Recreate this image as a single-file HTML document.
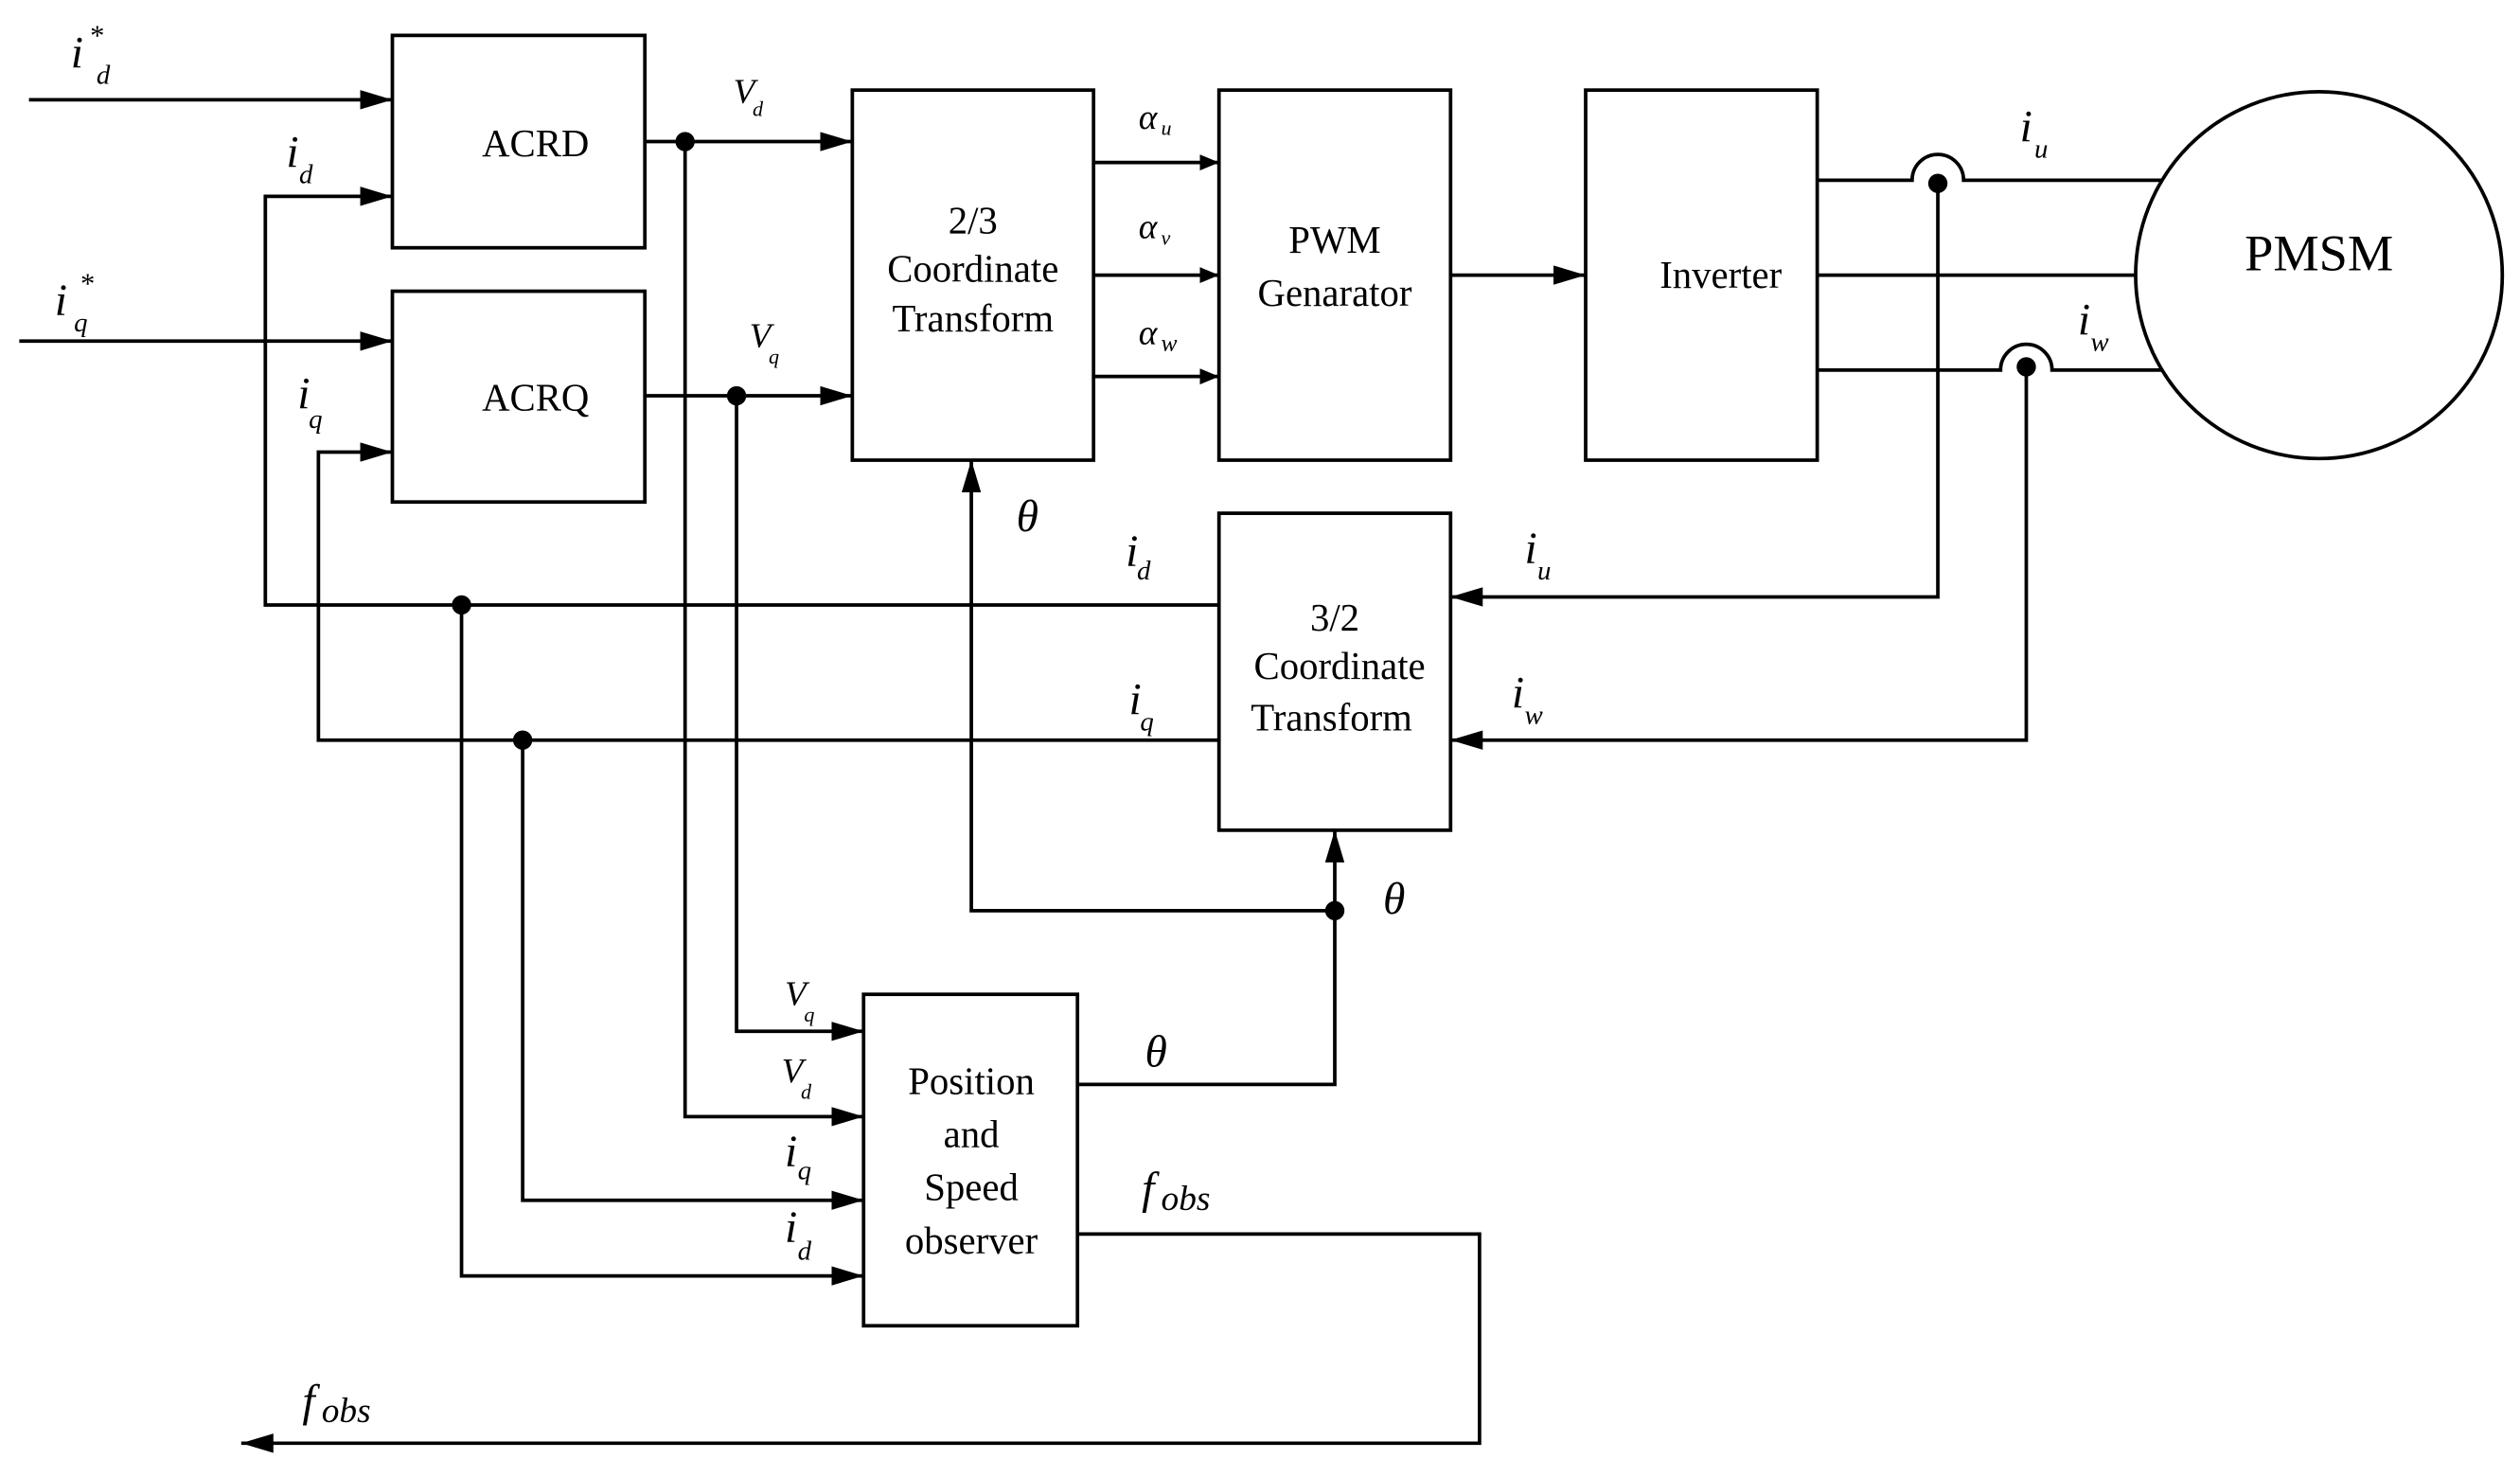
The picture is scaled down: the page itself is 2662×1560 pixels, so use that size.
<!DOCTYPE html>
<html><head><meta charset="utf-8"><style>
html,body{margin:0;padding:0;background:#fff;}
svg{display:block;}
text{font-family:"Liberation Serif",serif;fill:#000;}
.it{font-style:italic;}
</style></head><body>
<svg width="2662" height="1560" viewBox="0 0 1567 918" preserveAspectRatio="none" xmlns="http://www.w3.org/2000/svg">
<defs>
<marker id="a" markerWidth="12" markerHeight="10" refX="12" refY="5" orient="auto" markerUnits="userSpaceOnUse">
<path d="M0,0 L12,5 L0,10 Z" fill="#000"/></marker>
<marker id="b" markerWidth="20" markerHeight="12" refX="20" refY="6" orient="auto" markerUnits="userSpaceOnUse">
<path d="M0,0 L20,6 L0,12 Z" fill="#000"/></marker>
</defs>
<g stroke="#000" stroke-width="2.2" fill="none">
<rect x="244" y="22" width="157" height="132"/>
<rect x="244" y="181" width="157" height="131"/>
<rect x="530" y="56" width="150" height="230"/>
<rect x="758" y="56" width="144" height="230"/>
<rect x="986" y="56" width="144" height="230"/>
<circle cx="1442" cy="171" r="114"/>
<rect x="758" y="319" width="144" height="197"/>
<rect x="537" y="618" width="133" height="206"/>
<path d="M18,62 H244" marker-end="url(#b)"/>
<path d="M12,212 H244" marker-end="url(#b)"/>
<path d="M758,376 H165 V122 H244" marker-end="url(#b)"/>
<path d="M758,460 H198 V281 H244" marker-end="url(#b)"/>
<path d="M401,88 H530" marker-end="url(#b)"/>
<path d="M401,246 H530" marker-end="url(#b)"/>
<path d="M426,88 V694 H537" marker-end="url(#b)"/>
<path d="M458,246 V641 H537" marker-end="url(#b)"/>
<path d="M287,376 V793 H537" marker-end="url(#b)"/>
<path d="M325,460 V746 H537" marker-end="url(#b)"/>
<path d="M680,101 H758" marker-end="url(#a)"/>
<path d="M680,171 H758" marker-end="url(#a)"/>
<path d="M680,234 H758" marker-end="url(#a)"/>
<path d="M902,171 H986" marker-end="url(#b)"/>
<path d="M1130,112 H1189 A16,16 0 0 1 1221,112 H1345"/>
<path d="M1130,171 H1328"/>
<path d="M1130,230 H1244 A16,16 0 0 1 1276,230 H1345"/>
<path d="M1205,114 V371 H902" marker-end="url(#b)"/>
<path d="M1260,228 V460 H902" marker-end="url(#b)"/>
<path d="M670,674 H830 V516" marker-end="url(#b)"/>
<path d="M830,566 H604 V286" marker-end="url(#b)"/>
<path d="M670,767 H920 V897 H150" marker-end="url(#b)"/>
</g>
<g fill="#000">
<circle cx="426" cy="88" r="6"/><circle cx="458" cy="246" r="6"/>
<circle cx="287" cy="376" r="6"/><circle cx="325" cy="460" r="6"/>
<circle cx="1205" cy="114" r="6"/><circle cx="1260" cy="228" r="6"/>
<circle cx="830" cy="566" r="6"/>
</g>
<g font-size="24" text-anchor="middle">
<text x="333" y="97">ACRD</text>
<text x="333" y="255">ACRQ</text>
<text x="605" y="145">2/3</text>
<text x="605" y="175">Coordinate</text>
<text x="605" y="206">Transform</text>
<text x="830" y="157">PWM</text>
<text x="830" y="190">Genarator</text>
<text x="1070" y="179">Inverter</text>
<text x="830" y="392">3/2</text>
<text x="833" y="422">Coordinate</text>
<text x="828" y="454">Transform</text>
<text x="604" y="680">Position</text>
<text x="604" y="713">and</text>
<text x="604" y="746">Speed</text>
<text x="604" y="779">observer</text>
<text x="1442" y="168" font-size="32">PMSM</text>
</g>
<g class="it" font-size="28">
<text x="44" y="42">i</text><text x="56" y="28" font-size="18" font-style="normal">*</text><text x="60" y="52" font-size="17">d</text>
<text x="34" y="196">i</text><text x="50" y="182" font-size="18" font-style="normal">*</text><text x="46" y="206" font-size="17">q</text>
<text x="178" y="104">i</text><text x="186" y="114" font-size="17">d</text>
<text x="185" y="254">i</text><text x="192" y="266" font-size="17">q</text>
<text x="456" y="64" font-size="22">V</text><text x="468" y="72" font-size="13">d</text>
<text x="466" y="216" font-size="22">V</text><text x="478" y="226" font-size="13">q</text>
<text x="708" y="80" font-size="22">α</text><text x="722" y="84" font-size="13">u</text>
<text x="708" y="148" font-size="22">α</text><text x="722" y="152" font-size="13">v</text>
<text x="708" y="214" font-size="22">α</text><text x="722" y="218" font-size="15">w</text>
<text x="1256" y="88">i</text><text x="1265" y="98" font-size="17">u</text>
<text x="1292" y="208">i</text><text x="1300" y="218" font-size="17">w</text>
<text x="632" y="330">θ</text>
<text x="700" y="352">i</text><text x="707" y="360" font-size="17">d</text>
<text x="702" y="444">i</text><text x="709" y="454" font-size="17">q</text>
<text x="948" y="350">i</text><text x="956" y="360" font-size="17">u</text>
<text x="940" y="440">i</text><text x="948" y="450" font-size="17">w</text>
<text x="860" y="568">θ</text>
<text x="712" y="663">θ</text>
<text x="488" y="625" font-size="22">V</text><text x="500" y="635" font-size="13">q</text>
<text x="486" y="673" font-size="22">V</text><text x="498" y="683" font-size="13">d</text>
<text x="488" y="725">i</text><text x="496" y="733" font-size="17">q</text>
<text x="488" y="772">i</text><text x="496" y="783" font-size="17">d</text>
<text x="710" y="748">f</text><text x="722" y="752" font-size="22">obs</text>
<text x="188" y="880">f</text><text x="200" y="884" font-size="22">obs</text>
</g>
</svg>
</body></html>
